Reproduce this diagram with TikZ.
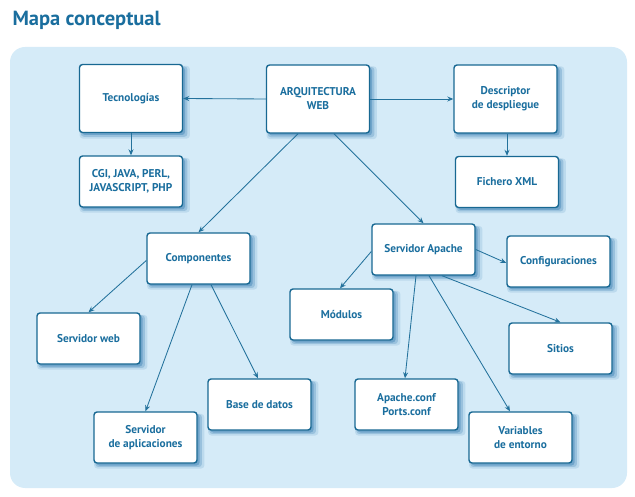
\documentclass[tikz,border=0pt]{standalone}
\usepackage{fontspec}
\setmainfont{PT Sans}
\usepackage{xcolor}
\usetikzlibrary{arrows.meta,shadows}

\definecolor{fondo}{RGB}{213,235,248}
\definecolor{borde}{RGB}{24,104,146}
\definecolor{texto}{RGB}{26,110,158}
\definecolor{flecha}{RGB}{36,114,156}
\definecolor{sombra}{RGB}{50,122,175}

\begin{document}
\begin{tikzpicture}[
    x=1pt,y=-1pt,
    box/.style={rectangle,draw=borde,line width=1.4pt,fill=white,rounded corners=3pt,
        align=center,minimum width=103pt,minimum height=51pt,inner sep=2pt,
        font=\bfseries\fontsize{11.3}{14}\selectfont,text=texto,
        drop shadow={shadow xshift=3.5pt,shadow yshift=-3.5pt,fill=sombra,opacity=.15,shadow scale=1.07},
        drop shadow={shadow xshift=3pt,shadow yshift=-3pt,fill=sombra,opacity=.25,shadow scale=1.035},
        drop shadow={shadow xshift=2.5pt,shadow yshift=-2.5pt,fill=sombra,opacity=.4}},
    tallbox/.style={box,minimum height=68pt},
    arrow/.style={-{Stealth[length=6pt,width=5pt]},draw=flecha,line width=0.85pt}
]
\useasboundingbox (0,0) rectangle (635,497);
\fill[fondo,rounded corners=15pt] (10,47) rectangle (627,488);
\node[anchor=base west,text=texto,font=\bfseries\fontsize{20.5}{24}\selectfont] (titulo) at (9,26) {Mapa conceptual};

% fila superior
\node[tallbox] (tec) at (131,98.5) {Tecnologías};
\node[tallbox] (arq) at (318,99) {ARQUITECTURA\\WEB};
\node[tallbox] (desc) at (505.5,99) {Descriptor\\de despliegue};
\node[box] (cgi) at (131,181.5) {CGI, JAVA, PERL,\\JAVASCRIPT, PHP};
\node[box] (xml) at (507,182) {Fichero XML};

% componentes
\node[box] (comp) at (198.5,258.5) {Componentes};
\node[box] (sweb) at (88.5,338.5) {Servidor web};
\node[box] (sapl) at (145.5,437.5) {Servidor\\de aplicaciones};
\node[box] (bd) at (259.5,404.5) {Base de datos};

% servidor apache
\node[box] (apache) at (423.5,249.5) {Servidor Apache};
\node[box] (conf) at (558.5,261.5) {Configuraciones};
\node[box] (mod) at (341.5,314.5) {Módulos};
\node[box] (sitios) at (560.5,348.5) {Sitios};
\node[box] (aconf) at (406.5,404.5) {Apache.conf\\Ports.conf};
\node[box] (vars) at (520.5,437.5) {Variables\\de entorno};

\draw[arrow] (arq.west) -- (tec.east);
\draw[arrow] (arq.east) -- (desc.west);
\draw[arrow] (tec.south) -- (cgi.north);
\draw[arrow] ([xshift=1.5pt]desc.south) -- ([xshift=1.5pt]desc.south |- xml.north);
\draw[arrow] ([xshift=-20pt]arq.south) -- (comp.north);
\draw[arrow] ([xshift=16pt]arq.south) -- (apache.north);

\draw[arrow] ([yshift=-2pt]comp.west) -- (sweb.north);
\draw[arrow] ([xshift=-6.5pt]comp.south) -- (sapl.north);
\draw[arrow] ([xshift=12.5pt]comp.south) -- ([xshift=-1.5pt]bd.north);

\draw[arrow] ([yshift=-2pt]apache.west) -- ([xshift=-1.5pt]mod.north);
\draw[arrow] (apache.east) -- ([yshift=-1.5pt]conf.west);
\draw[arrow] ([xshift=18.5pt]apache.south) -- (sitios.north);
\draw[arrow] ([xshift=-7.5pt]apache.south) -- ([xshift=-1.5pt]aconf.north);
\draw[arrow] ([xshift=5.5pt]apache.south) -- ([xshift=-10.5pt]vars.north);
\end{tikzpicture}
\end{document}
